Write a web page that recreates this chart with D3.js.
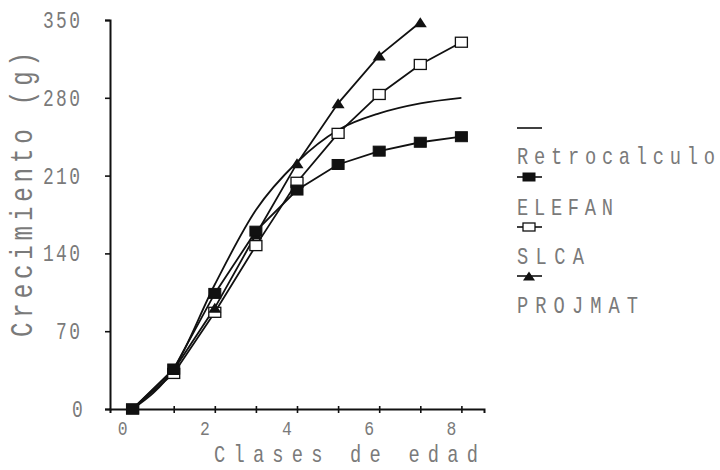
<!DOCTYPE html>
<html><head><meta charset="utf-8">
<script src="https://cdn.jsdelivr.net/npm/d3@7"></script>
<style>body{margin:0;background:#fff}svg{display:block}</style>
</head><body>
<svg id="c" width="720" height="470"></svg>
<script>
const ages = [0,1,2,3,4,5,6,7,8];
const retrocalculo = [0,36,112,179,222,251,266,275,280];
const elefan = [0,36,104,160,197,220,232,240,245];
const slca = [0,32,87,147,204,248,283,310,330];
const projmat = [0,35,91,157,221,275,318,348];
const xTicks = [0,2,4,6,8];
const yTicks = [0,70,140,210,280,350];
const seriesNames = ["Retrocalculo","ELEFAN","SLCA","PROJMAT"];

const svg = d3.select("#c");
const x = d3.scaleLinear().domain([-0.55,8.55]).range([110,484]);
const y = d3.scaleLinear().domain([0,350]).range([409,20]);
const font = "'Liberation Mono','DejaVu Sans Mono',monospace";
const txt = "#7a7a7a";

// condensed text helper
function ctext(g, s, px, py, size, len, anchor, rot){
  const sx = 0.78;
  const t = g.append("text")
    .attr("transform", `translate(${px},${py})` + (rot?` rotate(${rot})`:"") + ` scale(${sx},1)`)
    .attr("font-family",font).attr("font-size",size).attr("fill",txt)
    .attr("text-anchor",anchor||"start").text(s);
  if(len) t.attr("textLength",len/sx).attr("lengthAdjust","spacing");
  return t;
}

// axes
const xa = svg.append("g").attr("transform","translate(0,409)")
  .call(d3.axisBottom(x).tickValues(d3.range(0,9)).tickSize(4).tickFormat(""));
xa.select(".domain").attr("stroke","#111").attr("stroke-width",2);
xa.selectAll(".tick line").attr("stroke","#111").attr("stroke-width",1.6).attr("y1",-3);
xTicks.forEach(t=>ctext(svg,String(t),x(t)-10,435,21,null,"middle"));
const ya = svg.append("g").attr("transform","translate(110,0)")
  .call(d3.axisLeft(y).tickValues(yTicks).tickSize(5).tickFormat(""));
ya.select(".domain").attr("stroke","#111").attr("stroke-width",2);
ya.selectAll(".tick line").attr("stroke","#111").attr("stroke-width",1.6);
yTicks.forEach(t=>{
  const s = String(t);
  const w = s.length===1?8:(s.length*13-2);
  ctext(svg,s,80-w,y(t)+8,23,s.length>1?w:null,"start");
});

// titles
ctext(svg,"Clases de edad",214,462,24,264,"start");
ctext(svg,"Crecimiento (g)",32,337,31,285,"start",-90);

// lines
const line = d3.line().x((d,i)=>x(ages[i])).y(d=>y(d));
svg.append("path").datum(retrocalculo).attr("d",line.curve(d3.curveMonotoneX))
  .attr("fill","none").attr("stroke","#111").attr("stroke-width",1.8);
const lin = d3.line().x((d,i)=>x(ages[i])).y(d=>y(d));
[elefan,slca,projmat].forEach(s=>{
  svg.append("path").datum(s).attr("d",lin).attr("fill","none")
    .attr("stroke","#111").attr("stroke-width",1.8);
});

function sq(g,cx,cy,filled,w=12,h=10){
  g.append("rect").attr("x",cx-w/2).attr("y",cy-h/2).attr("width",w).attr("height",h)
    .attr("fill",filled?"#111":"#fff").attr("stroke","#111").attr("stroke-width",filled?1:1.3);
}
function tri(g,cx,cy,w=13,h=10){
  g.append("path").attr("d",`M${cx-w/2},${cy+h/2}L${cx},${cy-h/2}L${cx+w/2},${cy+h/2}Z`)
    .attr("fill","#111");
}
const mk = svg.append("g");
slca.forEach((v,i)=>sq(mk,x(ages[i]),y(v),false));
projmat.forEach((v,i)=>tri(mk,x(ages[i]),y(v)));
elefan.forEach((v,i)=>sq(mk,x(ages[i]),y(v),true));

// legend
const lg = svg.append("g");
const lx0=517, lx1=542, lcx=529;
const rows=[128,177,227,276];
const labY=[164,215,264,313];
rows.forEach((ry,i)=>{
  lg.append("line").attr("x1",lx0).attr("x2",lx1).attr("y1",ry).attr("y2",ry)
    .attr("stroke","#111").attr("stroke-width",1.6);
  if(i===1) sq(lg,lcx,ry,true,12,8);
  if(i===2) sq(lg,lcx,ry,false,12,8);
  if(i===3) tri(lg,lcx,ry,12,9);
});
const lens=[198,96,67,121];
seriesNames.forEach((n,i)=>ctext(lg,n,517,labY[i],24,lens[i],"start"));
</script>
</body></html>
